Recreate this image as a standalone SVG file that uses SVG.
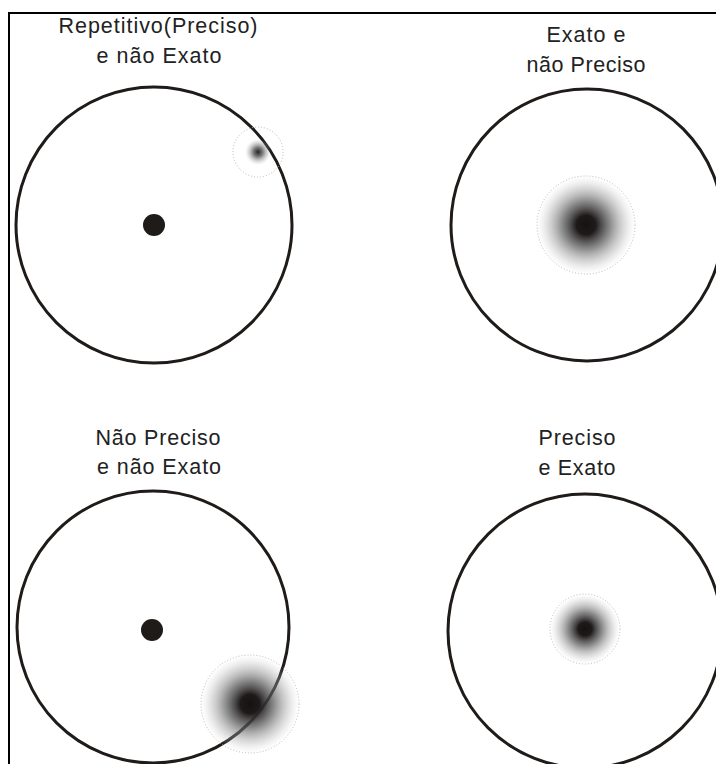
<svg xmlns="http://www.w3.org/2000/svg" width="716" height="764" viewBox="0 0 716 764">
<defs>
<radialGradient id="spot">
<stop offset="0" stop-color="#151212" stop-opacity="1"/>
<stop offset="0.2" stop-color="#1e1a1a" stop-opacity="1"/>
<stop offset="0.5" stop-color="#5a5a5a" stop-opacity="0.7"/>
<stop offset="0.8" stop-color="#a0a0a0" stop-opacity="0.35"/>
<stop offset="1" stop-color="#ccc" stop-opacity="0.05"/>
</radialGradient>
<radialGradient id="spotSmall">
<stop offset="0" stop-color="#222" stop-opacity="1"/>
<stop offset="0.35" stop-color="#555" stop-opacity="0.8"/>
<stop offset="1" stop-color="#bbb" stop-opacity="0"/>
</radialGradient>
</defs>
<style>
.target{fill:none;stroke:#1f1b19;stroke-width:3}
.dot{fill:#1f1b19}
.halo{fill:none;stroke:#b8b8b8;stroke-width:1;stroke-dasharray:1 2}
.lbl{font-family:"Liberation Sans","DejaVu Sans",sans-serif;font-size:21.5px;fill:#222;text-anchor:middle}
.frame{stroke:#000;stroke-width:2;fill:none}
</style>
<rect width="716" height="764" fill="#fff"/>
<g id="frame">
<path class="frame" d="M9,764 V13 H716"/>
</g>
<g id="q1">
<text class="lbl" x="158" y="33" textLength="199" lengthAdjust="spacing">Repetitivo(Preciso)</text>
<text class="lbl" x="159" y="63" textLength="125" lengthAdjust="spacing">e não Exato</text>
<circle class="target" cx="154" cy="225" r="138"/>
<circle class="dot" cx="154" cy="225" r="11"/>
<circle cx="258" cy="152" r="13" fill="url(#spotSmall)"/>
<circle class="halo" cx="258" cy="152" r="25"/>
</g>
<g id="q2">
<text class="lbl" x="586" y="42" textLength="79" lengthAdjust="spacing">Exato e</text>
<text class="lbl" x="586" y="72" textLength="119" lengthAdjust="spacing">não Preciso</text>
<circle class="target" cx="587" cy="225" r="136"/>
<circle cx="586" cy="225" r="48" fill="url(#spot)"/>
<circle class="halo" cx="586" cy="225" r="49"/>
</g>
<g id="q3">
<text class="lbl" x="158" y="445" textLength="125" lengthAdjust="spacing">Não Preciso</text>
<text class="lbl" x="159" y="474" textLength="124" lengthAdjust="spacing">e não Exato</text>
<circle class="target" cx="153" cy="627" r="136"/>
<circle class="dot" cx="152" cy="630" r="11"/>
<circle cx="250" cy="704" r="48" fill="url(#spot)"/>
<circle class="halo" cx="250" cy="704" r="49"/>
</g>
<g id="q4">
<text class="lbl" x="577" y="445" textLength="77" lengthAdjust="spacing">Preciso</text>
<text class="lbl" x="577" y="475" textLength="77" lengthAdjust="spacing">e Exato</text>
<circle class="target" cx="585" cy="631" r="137"/>
<circle cx="585" cy="629" r="34" fill="url(#spot)"/>
<circle class="halo" cx="585" cy="629" r="35"/>
</g>
</svg>
